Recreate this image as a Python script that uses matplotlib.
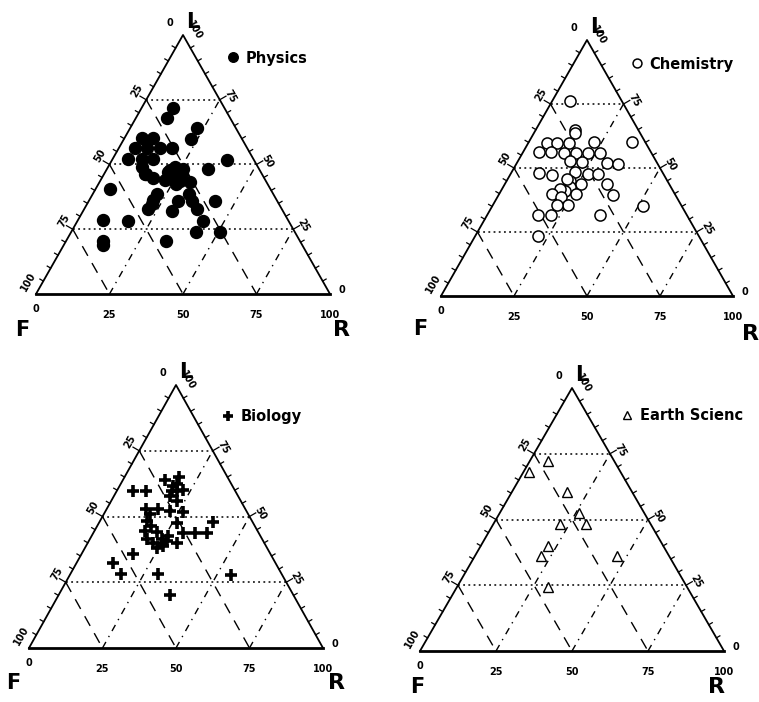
import numpy as np
import matplotlib.pyplot as plt

plt.rcParams['font.family'] = 'DejaVu Sans'
plt.rcParams['font.weight'] = 'bold'

W, H = 759, 702
fig = plt.figure(figsize=(W / 100, H / 100), dpi=100)
PT = 72 / 100  # points per pixel

# (R, L) percentages for each subject; F = 100 - R - L
phys_R = [10.6, 10.5, 22.6, 22.6, 5.9, 9.8, 5.5, 9.7, 14.0, 18.2, 5.2, 9.8, 13.7, 38.9,
          11.5, 14.0, 17.5, 21.4, 22.8, 26.1, 23.9, 21.8, 27.2, 30.7, 34.6, 5.0, 21.9, 21.8,
          21.9, 32.9, 35.1, 30.5, 30.2, 38.3, 43.0, 42.8, 8.7, 17.3, 42.4, 50.6, 12.7, 13.4,
          34.1, 21.7, 26.5, 26.3, 22.1, 14.2]
phys_L = [71.8, 68.0, 64.1, 60.0, 60.3, 60.3, 56.4, 56.4, 56.4, 56.4, 52.3, 52.3, 52.3, 51.9,
          49.0, 46.2, 44.9, 47.2, 49.0, 48.1, 45.5, 44.2, 43.6, 43.3, 48.1, 40.4, 38.5, 36.2,
          32.7, 38.5, 35.9, 35.9, 32.0, 32.7, 35.9, 28.2, 28.5, 28.2, 24.1, 24.1, 20.5, 19.0,
          20.3, 47.7, 46.2, 42.6, 34.6, 46.4]

chem_R = [6.0, 13.5, 14.0, 6.3, 9.9, 14.0, 22.3, 35.2, 5.5, 9.5, 14.1, 18.2, 22.4, 26.4,
          30.7, 34.9, 17.7, 22.0, 9.6, 14.3, 21.6, 26.5, 30.0, 34.8, 39.0, 21.6, 26.2, 22.9,
          21.8, 19.8, 17.9, 22.0, 26.2, 25.7, 21.9, 17.4, 21.6, 38.5, 51.5, 21.5, 20.1]
chem_L = [76.2, 64.7, 63.6, 59.7, 59.7, 59.7, 60.1, 60.1, 56.2, 56.2, 56.0, 56.0, 56.0, 56.0,
          52.0, 51.6, 52.9, 52.3, 48.0, 47.1, 48.4, 47.7, 47.7, 43.8, 39.5, 45.1, 43.8, 42.5,
          41.2, 41.8, 39.9, 38.5, 39.9, 35.7, 35.7, 31.8, 31.8, 31.8, 35.3, 23.5, 45.8]

bio_R = [5.6, 9.9, 14.3, 18.5, 18.3, 20.4, 22.4, 18.7, 22.3, 13.4, 17.6, 21.9, 26.6, 15.9,
         26.4, 38.8, 17.2, 21.4, 30.6, 34.6, 38.6, 19.2, 22.2, 25.2, 26.5, 30.2, 26.4, 17.5,
         12.5, 17.1, 29.9, 37.9, 54.8, 15.7, 18.2, 24.4, 26.1, 24.3, 19.1, 19.1]
bio_L = [59.7, 59.7, 63.9, 65.2, 61.6, 59.7, 60.1, 59.7, 55.9, 52.8, 52.8, 52.1, 51.7, 48.3,
         47.7, 47.9, 44.5, 44.1, 43.7, 43.7, 43.7, 41.6, 40.1, 39.8, 40.7, 40.1, 38.6, 35.9,
         32.2, 28.1, 28.1, 20.1, 27.8, 50.9, 46.4, 41.4, 42.6, 38.2, 62.3, 57.8]

earth_R = [6.1, 1.9, 18.1, 26.2, 22.0, 30.5, 22.0, 21.8, 46.7, 29.8]
earth_L = [72.3, 68.1, 60.3, 52.3, 48.1, 48.1, 40.0, 36.0, 36.0, 24.4]

grid_vals = [25, 50, 75]
tick_labels = ['0', '25', '50', '75', '100']

# pixel frame of each triangle: F corner x, base y, R corner x, apex y
panels = [
    dict(name='Physics', R=phys_R, L=phys_L, frame=(36, 294, 330, 35), leg=(233, 58),
         style=dict(marker='o', ms=8.6, mfc='black', mec='black', mew=1, ls='none'),
         f_off=(-14, -36), r_off=(12, -36)),
    dict(name='Chemistry', R=chem_R, L=chem_L, frame=(441, 296, 733, 40), leg=(637, 64),
         style=dict(marker='o', ms=8.0, mfc='white', mec='black', mew=1.1, ls='none'),
         f_off=(-21, -33), r_off=(17, -38)),
    dict(name='Biology', R=bio_R, L=bio_L, frame=(29, 648, 323, 385), leg=(228, 417),
         style=dict(marker='+', ms=8.5, mec='black', mew=2.6, ls='none'),
         f_off=(-16, -35), r_off=(14, -35)),
    dict(name='Earth Scienc', R=earth_R, L=earth_L, frame=(420, 651, 724, 388), leg=(627, 416),
         style=dict(marker='^', ms=6.5, mfc='white', mec='black', mew=1.0, ls='none'),
         f_off=(-3, -36), r_off=(-7, -36)),
]

h = np.sqrt(3) / 2


def to_xy(R, L):
    R = np.asarray(R, float)
    L = np.asarray(L, float)
    return R + L / 2, L * h


for p in panels:
    fx, fy, rx, ty = p['frame']
    ax = fig.add_axes([0, 0, 1, 1])
    ax.set_axis_off()
    ax.patch.set_visible(False)
    sx = (rx - fx) / 100
    sy = (fy - ty) / (100 * h)
    xmin = -fx / sx
    ymin = -(H - fy) / sy
    ax.set_xlim(xmin, xmin + W / sx)
    ax.set_ylim(ymin, ymin + H / sy)

    # triangle outline
    ax.plot([0, 50, 100], [0, 100 * h, 0], color='black', lw=1.3)
    ax.plot([0, 100], [0, 0], color='black', lw=2.0)

    for v in grid_vals:
        # constant L (dotted)
        x, y = to_xy([0, 100 - v], [v, v])
        ax.plot(x, y, color='black', lw=1.1, ls=(0, (1.2, 2.2)))
        # constant F (long dash)
        x, y = to_xy([0, 100 - v], [100 - v, 0])
        ax.plot(x, y, color='black', lw=1.0, ls=(0, (8, 6)))
        # constant R (dash-dot)
        x, y = to_xy([v, v], [0, 100 - v])
        ax.plot(x, y, color='black', lw=1.0, ls=(0, (5, 4, 1, 4)))

    # ticks on the left (F) and right (L) edges
    tl = 4 / sx
    nl = np.array([-0.866, 0.5])
    nr = np.array([0.866, 0.5])
    for v in range(5, 100, 5):
        ln = tl * (1.8 if v % 25 == 0 else 1.0)
        x, y = to_xy(0, v)
        ax.plot([x, x + nl[0] * ln], [y, y + nl[1] * ln * sx / sy], color='black', lw=0.9)
        x, y = to_xy(100 - v, v)
        ax.plot([x, x + nr[0] * ln], [y, y + nr[1] * ln * sx / sy], color='black', lw=0.9)

    # bottom axis labels (R)
    for i, t in enumerate(tick_labels):
        x, y = to_xy(i * 25, 0)
        dy = -11 if i == 0 else -15
        ax.annotate(t, (x, y), xytext=(0, dy), textcoords='offset points',
                    ha='center', va='center', fontsize=7, fontweight='heavy')

    # left edge labels (F)
    for i, t in enumerate(tick_labels):
        x, y = to_xy(0, 100 - i * 25)
        if i == 0:
            off, rot = (-9.6, 8.6), 0
        elif i == 4:
            off, rot = (-5.8, 8.6), 60
        else:
            off, rot = (-6.5, 6.5), 60
        ax.annotate(t, (x, y), xytext=off, textcoords='offset points',
                    ha='center', va='center', fontsize=7, fontweight='heavy', rotation=rot)

    # right edge labels (L)
    for i, t in enumerate(tick_labels):
        x, y = to_xy(100 - i * 25, i * 25)
        if i == 0:
            off, rot = (8.4, 2.9), 0
        elif i == 4:
            off, rot = (8, 3.5), -60
        else:
            off, rot = (7.5, 2.5), -60
        ax.annotate(t, (x, y), xytext=off, textcoords='offset points',
                    ha='center', va='center', fontsize=7, fontweight='heavy', rotation=rot)

    # corner letters
    x, y = to_xy(0, 100)
    ax.annotate('L', (x, y), xytext=(2, 2), textcoords='offset points',
                ha='left', va='bottom', fontsize=15, fontweight='heavy')
    ax.annotate('F', (0, 0), xytext=(p['f_off'][0] * PT, p['f_off'][1] * PT),
                textcoords='offset points', ha='center', va='center',
                fontsize=15, fontweight='heavy')
    ax.annotate('R', (100, 0), xytext=(p['r_off'][0] * PT, p['r_off'][1] * PT),
                textcoords='offset points', ha='center', va='center',
                fontsize=16, fontweight='heavy')

    x, y = to_xy(p['R'], p['L'])
    ax.plot(x, y, label=p['name'], **p['style'])

    lx, ly = p['leg']
    ax.legend(loc='center left', bbox_to_anchor=((lx - 5) / W, 1 - ly / H),
              bbox_transform=fig.transFigure, frameon=False, handlelength=0.7,
              handletextpad=0.5, borderpad=0, borderaxespad=0, markerscale=0.8,
              prop=dict(weight='heavy', size=10.5))

fig.savefig('out.png', dpi=100)
